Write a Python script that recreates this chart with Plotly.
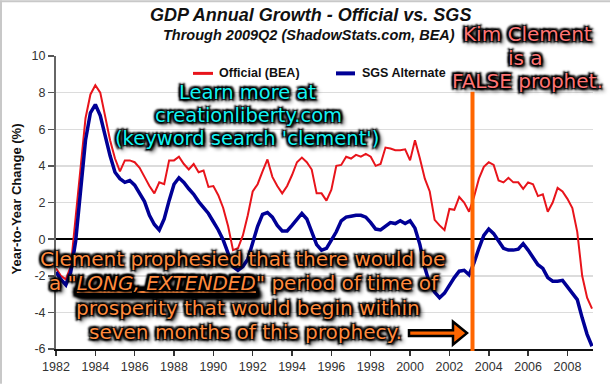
import plotly.graph_objects as go

# ---------------- data (quarterly, 1982Q1 .. 2009Q2) ----------------
start_year = 1982
official_bea = [
    -1.6, -2.0, -2.2, -1.5,   # 1982
    1.2, 4.1, 6.6, 7.9,       # 1983
    8.4, 8.0, 6.7, 5.4,       # 1984
    4.4, 3.7, 4.3, 4.3,       # 1985
    4.2, 3.9, 3.4, 2.9,       # 1986
    2.5, 3.1, 3.0, 4.3,       # 1987
    4.3, 4.5, 4.1, 3.8,       # 1988
    4.1, 3.65, 3.75, 2.85,    # 1989
    2.9, 2.4, 1.7, 0.7,       # 1990
    -0.6, -0.5, 0.2, 1.3,     # 1991
    2.6, 3.0, 3.7, 4.35,      # 1992
    3.4, 2.9, 2.5, 2.9,       # 1993
    3.5, 4.2, 4.45, 4.2,      # 1994
    3.8, 2.5, 2.5, 2.1,       # 1995
    2.7, 4.0, 4.05, 4.5,      # 1996
    4.4, 4.6, 4.5, 4.65,      # 1997
    4.5, 4.0, 4.1, 5.0,       # 1998
    4.95, 4.85, 4.85, 4.9,    # 1999
    4.3, 5.4, 4.4, 3.3,       # 2000
    2.6, 1.05, 0.75, 0.5,     # 2001
    1.65, 1.6, 2.3, 2.0,      # 2002
    1.5, 2.3, 3.3, 3.95,      # 2003
    4.2, 4.05, 3.2, 3.1,      # 2004
    3.35, 3.1, 3.1, 2.75,     # 2005
    3.1, 3.0, 2.35, 2.45,     # 2006
    1.5, 2.0, 2.8, 2.6,       # 2007
    2.2, 1.7, 0.4, -2.0,      # 2008
    -3.2, -3.8,               # 2009
]
sgs_alternate = [
    -1.8, -2.2, -2.5, -1.8,   # 1982
    -0.1, 2.8, 5.4, 6.9,      # 1983
    7.35, 6.75, 5.6, 4.55,    # 1984
    3.65, 3.3, 3.1, 3.2,      # 1985
    2.95, 2.45, 2.05, 1.3,    # 1986
    0.8, 0.5, 1.1, 2.1,       # 1987
    3.0, 3.35, 3.1, 2.75,     # 1988
    2.45, 2.05, 1.75, 1.4,    # 1989
    0.95, 0.5, -0.05, -0.85,  # 1990
    -1.5, -1.7, -1.5, -1.1,   # 1991
    -0.2, 0.7, 1.35, 1.45,    # 1992
    1.2, 0.75, 0.45, 0.45,    # 1993
    0.75, 1.1, 1.4, 1.1,      # 1994
    0.4, -0.3, -0.6, -0.5,    # 1995
    -0.05, 0.4, 1.0, 1.2,     # 1996
    1.25, 1.3, 1.3, 1.2,      # 1997
    0.9, 0.55, 0.5, 0.7,      # 1998
    0.9, 0.85, 1.0, 0.85,     # 1999
    1.0, 0.6, -0.3, -1.55,    # 2000
    -2.45, -2.9, -3.2, -2.95, # 2001
    -2.5, -2.1, -1.75, -1.7,  # 2002
    -1.95, -1.3, -0.5, 0.2,   # 2003
    0.55, 0.3, -0.1, -0.5,    # 2004
    -0.6, -0.6, -0.55, -0.25, # 2005
    -0.6, -1.0, -1.4, -1.6,   # 2006
    -2.1, -2.3, -2.3, -2.25,  # 2007
    -2.6, -2.9, -3.3, -4.3,   # 2008
    -5.2, -5.85,              # 2009
]
quarters = [start_year + i / 4 for i in range(len(official_bea))]
x_tick_vals = list(range(1982, 2009, 2))
y_tick_vals = list(range(-6, 11, 2))

# ---------------- layout helpers ----------------
W, H = 610, 386
ML, MR, MT, MB = 56, 17, 56, 35
PW, PH = W - ML - MR, H - MT - MB


def px(x):
    return (x - ML) / PW


def py(y):
    return (H - MB - y) / PH


SHADOW = ("1px 1px 1px #000, -1px -1px 1px #000, 1px -1px 1px #000, -1px 1px 1px #000, "
          "2px 2px 2px #000, -2px -2px 2px #000, 2px -2px 2px #000, -2px 2px 2px #000, "
          "3px 3px 4px #000")

fig = go.Figure()
fig.add_trace(go.Scatter(x=quarters, y=official_bea, mode="lines", name="Official (BEA)",
                         line=dict(color="#e8141b", width=2), showlegend=False))
fig.add_trace(go.Scatter(x=quarters, y=sgs_alternate, mode="lines", name="SGS Alternate",
                         line=dict(color="#000096", width=3.5), showlegend=False))

shapes = []
# image frame (left / top)
shapes.append(dict(type="line", xref="paper", yref="paper", x0=px(1), x1=px(1), y0=py(0), y1=py(386),
                   line=dict(color="#c8c8c8", width=2)))
shapes.append(dict(type="line", xref="paper", yref="paper", x0=px(0), x1=px(610), y0=py(1), y1=py(1),
                   line=dict(color="#c8c8c8", width=2)))
# legend samples
shapes.append(dict(type="line", xref="paper", yref="paper", x0=px(193), x1=px(213), y0=py(73.5), y1=py(73.5),
                   line=dict(color="#e8141b", width=3)))
shapes.append(dict(type="line", xref="paper", yref="paper", x0=px(336), x1=px(355), y0=py(73.5), y1=py(73.5),
                   line=dict(color="#000096", width=4)))
# orange vertical marker line
shapes.append(dict(type="line", xref="paper", yref="paper", x0=px(472.5), x1=px(472.5), y0=py(353), y1=py(92),
                   line=dict(color="#ff6600", width=4), layer="above"))
# orange arrow
pts = [(409, 332), (453, 332), (453, 323.5), (467, 335), (453, 346.5), (453, 338), (409, 338)]
path = "M " + " L ".join(f"{px(a):.5f},{py(b):.5f}" for a, b in pts) + " Z"
shapes.append(dict(type="path", xref="paper", yref="paper", path=path,
                   fillcolor="#ff6600", line=dict(color="#000", width=2.5), layer="above"))

ann = []


def add_text(text, x, y, size, color, family, shadow=None, xanchor="center", textangle=0):
    f = dict(size=size, color=color, family=family)
    if shadow:
        f["shadow"] = shadow
    ann.append(dict(text=text, x=px(x), y=py(y), xref="paper", yref="paper", showarrow=False,
                    xanchor=xanchor, yanchor="middle", font=f, textangle=textangle))


ARIAL = "Liberation Sans, Arial, sans-serif"
DEJAVU = "DejaVu Sans, sans-serif"
add_text("<b><i>GDP Annual Growth - Official vs. SGS</i></b>", 310, 15, 18, "#111", ARIAL)
add_text("<b><i>Through 2009Q2 (ShadowStats.com, BEA)</i></b>", 309, 35, 14.5, "#111", ARIAL)
add_text("<b>Official (BEA)</b>", 217, 73.5, 12.5, "#111", ARIAL, xanchor="left")
add_text("<b>SGS Alternate</b>", 360, 73.5, 12.5, "#111", ARIAL, xanchor="left")
add_text("<b>Year-to-Year Change (%)</b>", 16.5, 200, 13, "#111", ARIAL, textangle=-90)

cyan = "#14f2f2"
add_text("Learn more at", 247.5, 92.5, 19.5, cyan, DEJAVU, SHADOW)
add_text("creationliberty.com", 248, 116, 19.5, cyan, DEJAVU, SHADOW)
add_text("(keyword search 'clement')", 246.5, 139.5, 19.5, cyan, DEJAVU, SHADOW)

pink = "#ff7474"
add_text("Kim Clement", 527.5, 33.5, 20, pink, DEJAVU, SHADOW)
add_text("is a", 525, 58.5, 20, pink, DEJAVU, SHADOW)
add_text("FALSE prophet.", 527.5, 81, 20, pink, DEJAVU, SHADOW)

orange = "#ff8a3d"
add_text("Clement prophesied that there would be", 242.5, 260.5, 20, orange, DEJAVU, SHADOW)
add_text('a "<i><u>LONG, EXTENDED</u></i>" period of time of', 244, 285, 20, orange, DEJAVU, SHADOW)
add_text("prosperity that would begin within", 247.5, 309.5, 20, orange, DEJAVU, SHADOW)
add_text("seven months of this prophecy.", 245, 333.5, 20, orange, DEJAVU, SHADOW)

fig.update_layout(
    width=W, height=H,
    margin=dict(l=ML, r=MR, t=MT, b=MB, pad=0),
    paper_bgcolor="white", plot_bgcolor="white",
    showlegend=False,
    shapes=shapes, annotations=ann,
    font=dict(family=ARIAL),
)
fig.update_xaxes(range=[1982, 2009.3], tickvals=x_tick_vals, ticktext=[str(v) for v in x_tick_vals],
                 showgrid=False, zeroline=False, showline=True, linecolor="#111", linewidth=1.5,
                 ticks="outside", ticklen=5, tickwidth=1.5, tickcolor="#333",
                 tickfont=dict(size=12.5, color="#333", family=ARIAL))
fig.update_yaxes(range=[-6, 10], tickvals=y_tick_vals, ticktext=[str(v) for v in y_tick_vals],
                 showgrid=True, gridcolor="#dcdcdc", gridwidth=1.5,
                 zeroline=True, zerolinecolor="#000", zerolinewidth=1.5,
                 showline=True, linecolor="#666", linewidth=2,
                 ticks="outside", ticklen=6, tickwidth=1.5, tickcolor="#555",
                 tickfont=dict(size=12.5, color="#333", family=ARIAL))

fig.write_html("out.html",
               config={"displayModeBar": False, "staticPlot": True},
               post_script="document.body.style.margin='0px';document.body.style.overflow='hidden';")
